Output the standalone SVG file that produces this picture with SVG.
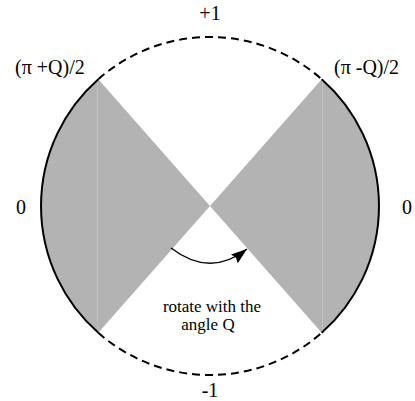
<svg xmlns="http://www.w3.org/2000/svg" width="415" height="401" viewBox="0 0 415 401">
<style>
  .sector { fill: #b3b3b3; stroke: none; }
  .seam { stroke: #c2c2c2; stroke-width: 1; }
  .solid { fill: none; stroke: #000; stroke-width: 2; }
  .dashed { fill: none; stroke: #000; stroke-width: 2; stroke-dasharray: 8 5; }
  .lbl { font-family: "Liberation Serif", "Times New Roman", serif; font-size: 20px; fill: #000; }
  .note { font-family: "Liberation Serif", "Times New Roman", serif; font-size: 17px; fill: #000; }
  .arrow { fill: none; stroke: #000; stroke-width: 1.3; }
</style>
<defs>
  <marker id="ah" markerUnits="userSpaceOnUse" markerWidth="17" markerHeight="12" refX="16" refY="5.5" orient="auto">
    <path d="M0,0 L16,5.5 L0,11 L2,5.5 z" fill="#000"/>
  </marker>
</defs>
<g id="left-sector">
  <path class="sector" d="M210,206 L98.3,79.2 A169,169 0 0 0 98.3,332.8 Z"/>
  <line class="seam" x1="97.5" y1="81" x2="97.5" y2="332"/>
  <path class="solid" d="M98.3,79.2 A169,169 0 0 0 98.3,332.8"/>
</g>
<g id="right-sector">
  <path class="sector" d="M210,206 L321.7,79.2 A169,169 0 0 1 321.7,332.8 Z"/>
  <line class="seam" x1="322.5" y1="81" x2="322.5" y2="332"/>
  <path class="solid" d="M321.7,79.2 A169,169 0 0 1 321.7,332.8"/>
</g>
<g id="top-arc">
  <path class="dashed" d="M98.3,79.2 A169,169 0 0 1 321.7,79.2"/>
</g>
<g id="bottom-arc">
  <path class="dashed" d="M98.3,332.8 A169,169 0 0 0 321.7,332.8"/>
</g>
<g id="connectors">
  <path class="arrow" d="M171,248 Q210,278 247,249" marker-end="url(#ah)"/>
</g>
<g id="labels">
  <text class="lbl" x="210" y="20" text-anchor="middle">+1</text>
  <text class="lbl" x="210" y="397" text-anchor="middle">-1</text>
  <text class="lbl" x="16" y="214">0</text>
  <text class="lbl" x="402" y="214">0</text>
  <text class="lbl" x="15" y="74">(π +Q)/2</text>
  <text class="lbl" x="334" y="74">(π -Q)/2</text>
  <text class="note" x="212" y="312" text-anchor="middle">rotate with the</text>
  <text class="note" x="208" y="330" text-anchor="middle">angle Q</text>
</g>
</svg>
